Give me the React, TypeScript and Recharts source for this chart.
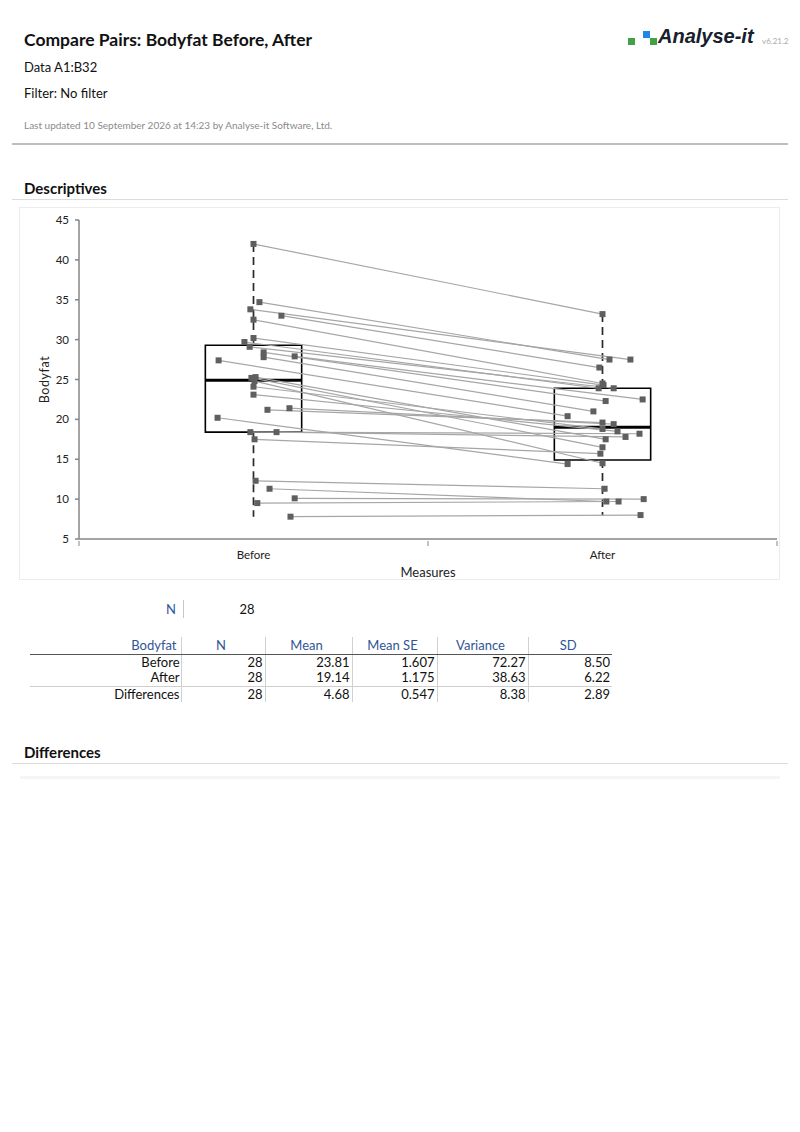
import React from "react"
import { ComposedChart, Scatter, XAxis, YAxis, ReferenceArea, ReferenceLine } from "recharts"

const categories = ["Before", "After"]

// paired measurements, same index = same subject
const beforeValues = [42.0, 34.7, 33.8, 33.0, 32.5, 30.2, 29.7, 29.1, 28.4, 27.9, 27.8, 27.4, 25.3, 25.2, 24.8, 24.1, 23.1, 21.4, 21.2, 20.2, 18.4, 18.4, 17.5, 12.3, 11.3, 10.1, 9.5, 7.8]
const afterValues = [33.2, 27.5, 27.5, 26.5, 24.5, 24.3, 23.9, 23.9, 22.3, 22.5, 21.0, 20.4, 17.5, 16.5, 14.5, 18.8, 18.5, 19.4, 19.6, 14.4, 18.2, 17.8, 15.7, 11.3, 9.7, 10.0, 9.7, 8.0]

// horizontal jitter, in category widths
const beforeJitter = [0, 0.017, -0.009, 0.08, 0, 0, -0.026, -0.011, 0.029, 0.118, 0.029, -0.1, 0.006, -0.006, 0.003, 0, 0, 0.103, 0.04, -0.103, -0.009, 0.066, 0.003, 0.006, 0.046, 0.118, 0.011, 0.106]
const afterJitter = [0, 0.02, 0.08, -0.009, 0, 0.003, -0.011, 0.032, 0.009, 0.115, -0.026, -0.1, 0.009, 0, 0, 0, 0.043, 0.032, 0, -0.1, 0.106, 0.066, -0.006, 0.006, 0.011, 0.118, 0.046, 0.109]

// box plot summary per category
const boxQ1 = [18.4, 14.9]
const boxMedian = [24.9, 19.0]
const boxQ3 = [29.3, 23.9]
const whiskerLow = [7.8, 8.0]
const whiskerHigh = [42.0, 33.2]

const yTicks = [5, 10, 15, 20, 25, 30, 35, 40, 45]

const statHeaders = ["Bodyfat", "N", "Mean", "Mean SE", "Variance", "SD"]
const statRows = ["Before", "After", "Differences"]
const statN = ["28", "28", "28"]
const statMean = ["23.81", "19.14", "4.68"]
const statMeanSE = ["1.607", "1.175", "0.547"]
const statVariance = ["72.27", "38.63", "8.38"]
const statSD = ["8.50", "6.22", "2.89"]

const FONT = "Lato, 'Open Sans', sans-serif"
const BLUE = "#2f5597"
const HALF_BOX = 0.138

const pairs = beforeValues.map((b, i) => [
  { x: 0.5 + beforeJitter[i], y: b },
  { x: 1.5 + afterJitter[i], y: afterValues[i] },
])
const points = pairs.flat()

const SquareDot = (props: any) => {
  const { cx, cy } = props
  if (cx == null || cy == null) return <g />
  return <rect x={cx - 3} y={cy - 3} width={6} height={6} fill="#5f5f5f" />
}

const XTick = (props: any) => {
  const { x, y, payload } = props
  const v = payload.value
  if (Number.isInteger(v)) {
    return <line x1={x} y1={y} x2={x} y2={y + 5} stroke="#868686" strokeWidth={1} />
  }
  const idx = Math.floor(v)
  return (
    <text x={x} y={y + 15} textAnchor="middle" dominantBaseline="middle" fontSize={11.5} fill="#222" fontFamily={FONT}>
      {categories[idx]}
    </text>
  )
}

function BoxPlot() {
  return (
    <ComposedChart width={761} height={373} margin={{ top: 13, right: 3, left: 0, bottom: 0 }}>
      <XAxis
        type="number"
        dataKey="x"
        domain={[0, 2]}
        ticks={[0, 0.5, 1, 1.5, 2]}
        tick={<XTick />}
        tickLine={false}
        tickSize={0}
        height={41}
        stroke="#868686"
        strokeWidth={1.5}
        interval={0}
        label={{ value: "Measures", position: "insideBottom", offset: 3, fontSize: 13, fill: "#222", fontFamily: FONT }}
      />
      <YAxis
        type="number"
        dataKey="y"
        domain={[5, 45]}
        ticks={yTicks}
        interval={0}
        width={60}
        tickSize={4}
        tickMargin={6}
        stroke="#868686"
        strokeWidth={1.5}
        tick={{ fontSize: 11.5, fill: "#222", fontFamily: FONT }}
        label={{ value: "Bodyfat", angle: -90, position: "center", dx: -4, fontSize: 12.5, fill: "#222", fontFamily: FONT, letterSpacing: 0.6 }}
      />
      {pairs.map((p, i) => (
        <Scatter
          key={`pair-${i}`}
          data={p}
          line={{ stroke: "#a6a6a6", strokeWidth: 1.2 }}
          shape={() => <g />}
          isAnimationActive={false}
          legendType="none"
        />
      ))}
      {categories.map((c, i) => (
        <ReferenceLine
          key={`wh-${c}`}
          segment={[{ x: i + 0.5, y: whiskerHigh[i] }, { x: i + 0.5, y: boxQ3[i] }]}
          stroke="#2a2a2a"
          strokeWidth={1.7}
          strokeDasharray="8 5"
        />
      ))}
      {categories.map((c, i) => (
        <ReferenceLine
          key={`wl-${c}`}
          segment={[{ x: i + 0.5, y: boxQ1[i] }, { x: i + 0.5, y: whiskerLow[i] }]}
          stroke="#2a2a2a"
          strokeWidth={1.7}
          strokeDasharray="8 5"
        />
      ))}
      {categories.map((c, i) => (
        <ReferenceArea
          key={`box-${c}`}
          x1={i + 0.5 - HALF_BOX}
          x2={i + 0.5 + HALF_BOX}
          y1={boxQ1[i]}
          y2={boxQ3[i]}
          fill="none"
          fillOpacity={0}
          stroke="#000"
          strokeWidth={1.6}
        />
      ))}
      {categories.map((c, i) => (
        <ReferenceLine
          key={`med-${c}`}
          segment={[{ x: i + 0.5 - HALF_BOX, y: boxMedian[i] }, { x: i + 0.5 + HALF_BOX, y: boxMedian[i] }]}
          stroke="#000"
          strokeWidth={3}
        />
      ))}
      <Scatter data={points} shape={<SquareDot />} isAnimationActive={false} legendType="none" />
    </ComposedChart>
  )
}

const abs = (left: number, top: number, extra: React.CSSProperties = {}): React.CSSProperties => ({
  position: "absolute",
  left,
  top,
  ...extra,
})

export default function App() {
  const cols = [151, 84, 87, 85, 91, 84]
  const rowVals = [statN, statMean, statMeanSE, statVariance, statSD]
  return (
    <div style={{ position: "absolute", left: 0, top: 0, width: 800, height: 1132, background: "#fff", fontFamily: FONT, color: "#111" }}>
      {/* header */}
      <div style={abs(24, 29, { fontSize: 17.5, fontWeight: 700 })}>Compare Pairs: Bodyfat Before, After</div>
      <div style={abs(24, 59, { fontSize: 13 })}>Data A1:B32</div>
      <div style={abs(24, 85, { fontSize: 13 })}>Filter: No filter</div>
      <div style={abs(24, 119, { fontSize: 10, color: "#8a8a8a" })}>
        Last updated 10 September 2026 at 14:23 by Analyse-it Software, Ltd.
      </div>

      {/* logo */}
      <div style={abs(628, 38, { width: 7, height: 7, background: "#43a047" })} />
      <div style={abs(643, 31, { width: 7, height: 7, background: "#1e88e5" })} />
      <div style={abs(650, 38, { width: 7, height: 7, background: "#43a047" })} />
      <div style={abs(658, 25, { fontSize: 20, fontWeight: 700, fontStyle: "italic", color: "#17202b", fontFamily: "'Liberation Sans', Arial, sans-serif" })}>
        Analyse-it
      </div>
      <div style={abs(762, 36, { fontSize: 8, color: "#aaa" })}>v6.21.2</div>

      <div style={abs(12, 143, { width: 776, height: 2, background: "#bdbdbd" })} />

      <div style={abs(24, 179, { fontSize: 15, fontWeight: 700 })}>Descriptives</div>
      <div style={abs(12, 199, { width: 776, height: 1, background: "#dcdcdc" })} />

      <div style={abs(19, 207, { width: 761, height: 373, border: "1px solid #ececec", boxSizing: "border-box" })} />
      <div style={abs(19, 207)}>
        <BoxPlot />
      </div>

      {/* N */}
      <div style={abs(118, 601, { width: 58, textAlign: "right", fontSize: 13, color: BLUE })}>N</div>
      <div style={abs(183, 600, { width: 1, height: 18, background: "#c8c8c8" })} />
      <div style={abs(230, 601, { width: 34, textAlign: "center", fontSize: 13 })}>28</div>

      {/* stats table */}
      <table style={abs(30, 637, { borderCollapse: "collapse", fontSize: 13, tableLayout: "fixed" })}>
        <colgroup>
          {cols.map((w, i) => (
            <col key={i} style={{ width: w }} />
          ))}
        </colgroup>
        <thead>
          <tr style={{ height: 17 }}>
            {statHeaders.map((h, i) => (
              <th
                key={h}
                style={{
                  fontWeight: 400,
                  color: BLUE,
                  textAlign: i === 0 ? "right" : "center",
                  padding: "0 4px 0 0",
                  borderRight: i < statHeaders.length - 1 ? "1px solid #d0d0d0" : "none",
                  borderBottom: "1.5px solid #555",
                }}
              >
                {h}
              </th>
            ))}
          </tr>
        </thead>
        <tbody>
          {statRows.map((r, ri) => (
            <tr key={r} style={{ height: 16, borderTop: ri === 2 ? "1px solid #cfcfcf" : "none" }}>
              <td style={{ textAlign: "right", padding: "0 1px 0 0", borderRight: "1px solid #d0d0d0", lineHeight: "15px" }}>{r}</td>
              {rowVals.map((vals, ci) => (
                <td
                  key={ci}
                  style={{
                    textAlign: "right",
                    padding: "0 2px 0 0",
                    borderRight: ci < rowVals.length - 1 ? "1px solid #d0d0d0" : "none",
                    lineHeight: "15px",
                  }}
                >
                  {vals[ri]}
                </td>
              ))}
            </tr>
          ))}
        </tbody>
      </table>

      <div style={abs(24, 743, { fontSize: 15, fontWeight: 700 })}>Differences</div>
      <div style={abs(12, 763, { width: 776, height: 1, background: "#dcdcdc" })} />
      <div style={abs(20, 776, { width: 760, height: 3, background: "#f5f5f5" })} />
    </div>
  )
}
